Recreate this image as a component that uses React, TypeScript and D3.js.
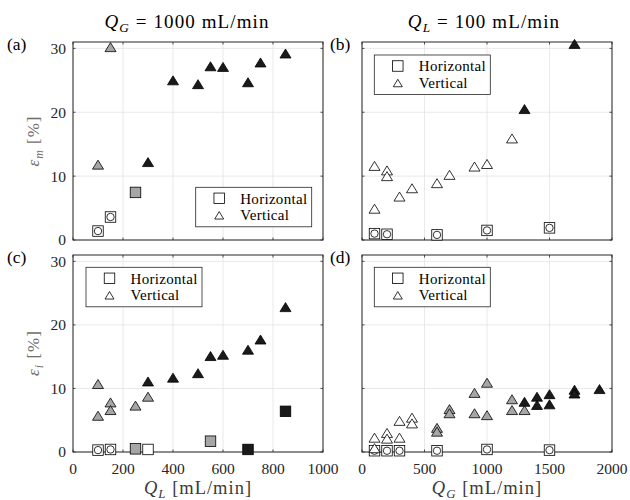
import React from 'react';
import * as d3 from 'd3';

type Pt = [number, number, string, number?];

const yTicks = [0, 10, 20, 30];
const qlTicks = [0, 200, 400, 600, 800, 1000];
const qgTicks = [0, 500, 1000, 1500, 2000];

// [x, y, regime ('w' | 'g' | 'k'), circle-inside flag]
const aVertical: Pt[] = [
  [100, 11.8, 'g'], [150, 30.2, 'g'], [300, 12.2, 'k'], [400, 25.0, 'k'], [500, 24.4, 'k'],
  [550, 27.2, 'k'], [600, 27.1, 'k'], [700, 24.7, 'k'], [750, 27.8, 'k'], [850, 29.2, 'k'],
];
const aHorizontal: Pt[] = [[100, 1.4, 'w', 1], [150, 3.6, 'w', 1], [250, 7.45, 'g', 0]];

const bVertical: Pt[] = [
  [100, 11.6, 'w'], [100, 4.9, 'w'], [200, 10.9, 'w'], [200, 10.0, 'w'], [300, 6.8, 'w'],
  [400, 8.1, 'w'], [600, 8.9, 'w'], [700, 10.2, 'w'], [900, 11.5, 'w'], [1000, 11.9, 'w'],
  [1200, 15.9, 'w'], [1300, 20.5, 'k'], [1700, 30.7, 'k'],
];
const bHorizontal: Pt[] = [
  [100, 1.0, 'w', 1], [200, 0.9, 'w', 1], [600, 0.8, 'w', 1], [1000, 1.5, 'w', 1], [1500, 1.9, 'w', 1],
];

const cVertical: Pt[] = [
  [100, 10.7, 'g'], [100, 5.7, 'g'], [150, 7.8, 'g'], [150, 6.6, 'g'], [250, 7.3, 'g'], [300, 8.7, 'g'],
  [300, 11.1, 'k'], [400, 11.7, 'k'], [500, 12.4, 'k'], [550, 15.1, 'k'], [600, 15.3, 'k'],
  [700, 16.1, 'k'], [750, 17.7, 'k'], [850, 22.8, 'k'],
];
const cHorizontal: Pt[] = [
  [100, 0.3, 'w', 1], [150, 0.4, 'w', 1], [250, 0.5, 'g', 0], [300, 0.4, 'w', 0],
  [550, 1.7, 'g', 0], [700, 0.4, 'k', 0], [850, 6.4, 'k', 0],
];

const dVertical: Pt[] = [
  [100, 2.25, 'w'], [100, 0.6, 'w'], [200, 3.0, 'w'], [200, 2.1, 'w'], [300, 2.25, 'w'], [300, 4.9, 'w'],
  [400, 5.4, 'w'], [400, 4.5, 'w'], [600, 3.8, 'g'], [600, 3.2, 'g'], [700, 6.75, 'g'], [700, 6.1, 'g'],
  [900, 9.3, 'g'], [900, 6.1, 'g'], [1000, 10.9, 'g'], [1000, 5.8, 'g'], [1200, 8.3, 'g'], [1200, 6.6, 'g'],
  [1300, 6.6, 'g'], [1300, 7.9, 'k'], [1400, 8.7, 'k'], [1400, 7.4, 'k'], [1500, 9.1, 'k'], [1500, 7.5, 'k'],
  [1700, 9.8, 'k'], [1700, 9.2, 'k'], [1900, 9.9, 'k'],
];
const dHorizontal: Pt[] = [
  [100, 0.2, 'w', 1], [200, 0.2, 'w', 1], [300, 0.2, 'w', 1], [600, 0.2, 'w', 1], [1000, 0.4, 'w', 1], [1500, 0.3, 'w', 1],
];

const legendLabels = ['Horizontal', 'Vertical'];

const FILL: Record<string, string> = { w: '#ffffff', g: '#a6a6a6', k: '#1a1a1a' };
const FONT = 'Liberation Serif';
const AX = '#262626';

const triPath = (w: number, h: number) => `M0,${-h / 2}L${w / 2},${h / 2}L${-w / 2},${h / 2}Z`;

function Square({ cx, cy, fill, circle }: { cx: number; cy: number; fill: string; circle?: boolean }) {
  const s = 10.5;
  return (
    <g>
      <rect x={cx - s / 2} y={cy - s / 2} width={s} height={s} fill={fill} stroke="#000" strokeWidth={0.8} />
      {circle ? <circle cx={cx} cy={cy} r={3.7} fill="#fff" stroke="#000" strokeWidth={0.8} /> : null}
    </g>
  );
}

function Tri({ cx, cy, fill, w = 11, h = 9 }: { cx: number; cy: number; fill: string; w?: number; h?: number }) {
  return <path d={triPath(w, h)} transform={`translate(${cx},${cy})`} fill={fill} stroke="#000" strokeWidth={0.8} />;
}

interface PanelProps {
  x0: number; x1: number; y0: number; y1: number;
  xMax: number; xTicks: number[];
  showXLabels: boolean; showYLabels: boolean;
  vertical: Pt[]; horizontal: Pt[];
  legend: [number, number];
}

function Panel(p: PanelProps) {
  const x = d3.scaleLinear().domain([0, p.xMax]).range([p.x0, p.x1]);
  const y = d3.scaleLinear().domain([0, 31]).range([p.y1, p.y0]);
  const tl = 2.5;
  const [lx, ly] = p.legend;
  const bw = 116, bh = 39.5;
  return (
    <g>
      {p.xTicks.map((t) => (
        <line key={'gx' + t} x1={x(t)} x2={x(t)} y1={p.y0} y2={p.y1} stroke="#e3e3e3" strokeWidth={0.8} />
      ))}
      {yTicks.map((t) => (
        <line key={'gy' + t} x1={p.x0} x2={p.x1} y1={y(t)} y2={y(t)} stroke="#e3e3e3" strokeWidth={0.8} />
      ))}
      {p.xTicks.map((t) => (
        <g key={'tx' + t}>
          <line x1={x(t)} x2={x(t)} y1={p.y1} y2={p.y1 - tl} stroke={AX} strokeWidth={0.8} />
          <line x1={x(t)} x2={x(t)} y1={p.y0} y2={p.y0 + tl} stroke={AX} strokeWidth={0.8} />
          {p.showXLabels ? (
            <text x={x(t)} y={p.y1 + 22} textAnchor="middle" fontSize={15.5} fill={AX} fontFamily={FONT}>{t}</text>
          ) : null}
        </g>
      ))}
      {yTicks.map((t) => (
        <g key={'ty' + t}>
          <line x1={p.x0} x2={p.x0 + tl} y1={y(t)} y2={y(t)} stroke={AX} strokeWidth={0.8} />
          <line x1={p.x1} x2={p.x1 - tl} y1={y(t)} y2={y(t)} stroke={AX} strokeWidth={0.8} />
          {p.showYLabels ? (
            <text x={p.x0 - 7} y={y(t)} dy="0.35em" textAnchor="end" fontSize={15.5} fill={AX} fontFamily={FONT}>{t}</text>
          ) : null}
        </g>
      ))}
      <rect x={p.x0} y={p.y0} width={p.x1 - p.x0} height={p.y1 - p.y0} fill="none" stroke={AX} strokeWidth={1} />
      {p.horizontal.map((d, i) => (
        <Square key={'h' + i} cx={x(d[0])} cy={y(d[1])} fill={FILL[d[2]]} circle={!!d[3]} />
      ))}
      {p.vertical.map((d, i) => (
        <Tri key={'v' + i} cx={x(d[0])} cy={y(d[1])} fill={FILL[d[2]]} />
      ))}
      <g transform={`translate(${p.x0 + lx},${p.y0 + ly})`}>
        <rect x={0} y={0} width={bw} height={bh} fill="#fff" stroke={AX} strokeWidth={0.8} />
        <Square cx={23.5} cy={11} fill="#fff" />
        <Tri cx={23.5} cy={28} fill="#fff" w={9} h={7.5} />
        {legendLabels.map((l, i) => (
          <text key={l} x={44.5} y={11 + i * 16.7} dy="0.35em" fontSize={15} letterSpacing={0.3} fill="#000" fontFamily={FONT}>{l}</text>
        ))}
      </g>
    </g>
  );
}

function QLabel({ x, y, sub, rest, size, fill, spacing = 0, anchor = 'middle' }: any) {
  return (
    <text x={x} y={y} textAnchor={anchor} fontSize={size} fill={fill} fontFamily={FONT} letterSpacing={spacing}>
      <tspan fontStyle="italic">Q</tspan>
      <tspan fontStyle="italic" fontSize={size * 0.7} dy={size * 0.22}>{sub}</tspan>
      <tspan dy={-size * 0.22}>{rest}</tspan>
    </text>
  );
}

function ELabel({ cx, cy, sub }: { cx: number; cy: number; sub: string }) {
  const size = 17;
  return (
    <text transform={`translate(${cx},${cy}) rotate(-90)`} textAnchor="middle" fontSize={size} fill="#6e6e6e" fontFamily={FONT} letterSpacing={1}>
      <tspan fontStyle="italic">ε</tspan>
      <tspan fontStyle="italic" fontSize={size * 0.7} dy={size * 0.22}>{sub}</tspan>
      <tspan dy={-size * 0.22}>{'  [%]'}</tspan>
    </text>
  );
}

export default function App() {
  return (
    <svg width={630} height={500} style={{ position: 'absolute', left: 0, top: 0, background: '#fff' }}>
      <rect width={630} height={500} fill="#fff" />
      <QLabel x={187} y={28} sub="G" rest={'  =  1000 mL/min'} size={19} spacing={1.1} fill="#000" />
      <QLabel x={484} y={28} sub="L" rest={'  =  100 mL/min'} size={19} spacing={1.1} fill="#000" />
      <text x={7} y={50} fontSize={17.5} fontFamily={FONT}>(a)</text>
      <text x={330} y={50} fontSize={17.5} fontFamily={FONT}>(b)</text>
      <text x={7} y={263} fontSize={17.5} fontFamily={FONT}>(c)</text>
      <text x={330} y={263} fontSize={17.5} fontFamily={FONT}>(d)</text>
      <Panel x0={73} x1={323} y0={42} y1={240} xMax={1000} xTicks={qlTicks} showXLabels={false} showYLabels={true}
        vertical={aVertical} horizontal={aHorizontal} legend={[122.7, 145.3]} />
      <Panel x0={362} x1={612} y0={42} y1={240} xMax={2000} xTicks={qgTicks} showXLabels={false} showYLabels={false}
        vertical={bVertical} horizontal={bHorizontal} legend={[12.3, 13]} />
      <Panel x0={73} x1={323} y0={255} y1={452} xMax={1000} xTicks={qlTicks} showXLabels={true} showYLabels={true}
        vertical={cVertical} horizontal={cHorizontal} legend={[13, 12.3]} />
      <Panel x0={362} x1={612} y0={255} y1={452} xMax={2000} xTicks={qgTicks} showXLabels={true} showYLabels={false}
        vertical={dVertical} horizontal={dHorizontal} legend={[12.3, 12.3]} />
      <ELabel cx={39} cy={141} sub="m" />
      <ELabel cx={39} cy={353} sub="i" />
      <QLabel x={198} y={494} sub="L" rest={'  [mL/min]'} size={18.5} spacing={1} fill="#3a3a3a" />
      <QLabel x={487} y={494} sub="G" rest={'  [mL/min]'} size={18.5} spacing={1} fill="#3a3a3a" />
    </svg>
  );
}
